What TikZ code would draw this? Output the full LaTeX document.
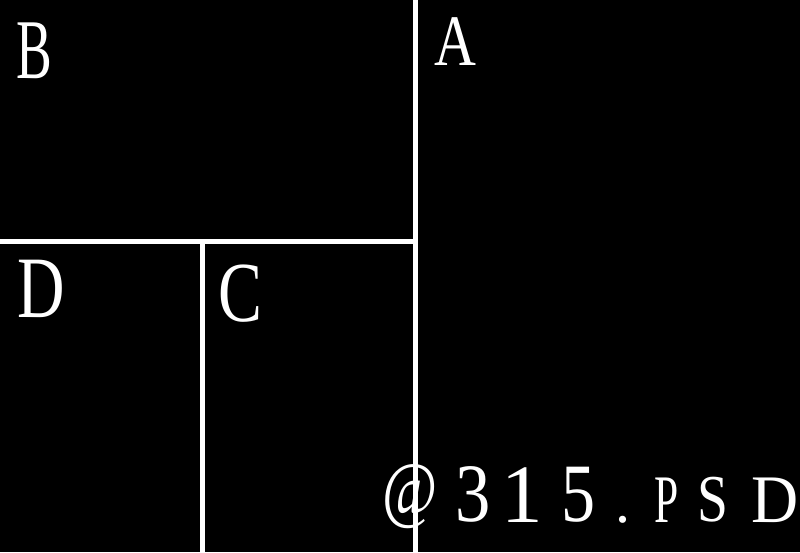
\documentclass[tikz,border=0pt]{standalone}
\usepackage{fontspec}
\setmainfont{Liberation Serif}
\usepackage{graphicx}
\tikzset{
  lbl/.style={text=white, inner sep=0pt, anchor=base},
  divider/.style={draw=white, line width=5pt},
}
\newcommand{\gl}[3]{\fontsize{#1}{#1}\selectfont\scalebox{#2}[1]{#3}}
\begin{document}
\begin{tikzpicture}[x=1pt,y=-1pt]
\fill[black] (0,0) rectangle (800,552);
\useasboundingbox (0,0) rectangle (800,552);
% dividers
\coordinate (vtop) at (415.5,0);
\coordinate (vbot) at (415.5,552);
\coordinate (hleft) at (0,241.5);
\coordinate (hjoin) at (415.5,241.5);
\coordinate (mtop) at (202.5,241.5);
\coordinate (mbot) at (202.5,552);
\draw[divider] (vtop) -- (vbot);
\draw[divider] (hleft) -- (hjoin);
\draw[divider] (mtop) -- (mbot);
% region labels
\node[lbl] (B) at (34.5,78) {\gl{85}{0.63}{B}};
\node[lbl] (A) at (455,65) {\gl{72.5}{0.8}{A}};
\node[lbl] (D) at (41,317) {\gl{87.6}{0.75}{D}};
\node[lbl] (C) at (240,321) {\gl{85.5}{0.77}{C}};
% watermark
\node[lbl] (w1) at (410,514) {\gl{75}{0.8}{@}};
\node[lbl] (w2) at (473.5,521) {\gl{83}{0.85}{3}};
\node[lbl] (w3) at (522,522) {\gl{83}{1.0}{1}};
\node[lbl] (w4) at (579,521) {\gl{83}{0.82}{5}};
\node[lbl] (w5) at (623,522) {\gl{60}{1}{.}};
\node[lbl] (w6) at (666.5,522) {\gl{68}{0.64}{P}};
\node[lbl] (w7) at (712.5,521) {\gl{67}{0.83}{S}};
\node[lbl] (w8) at (775,522) {\gl{68}{0.96}{D}};
\end{tikzpicture}
\end{document}
